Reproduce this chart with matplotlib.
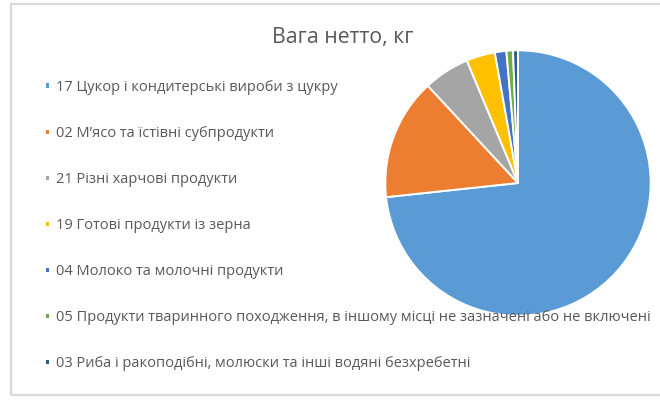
import matplotlib
matplotlib.use("Agg")
import matplotlib.pyplot as plt
from matplotlib.patches import Rectangle

# Net weight shares by commodity group (percent of total)
labels = [
    "17 Цукор і кондитерські вироби з цукру",
    "02 М’ясо та їстівні субпродукти",
    "21 Різні харчові продукти",
    "19 Готові продукти із зерна",
    "04 Молоко та молочні продукти",
    "05 Продукти тваринного походження, в іншому місці не зазначені або не включені",
    "03 Риба і ракоподібні, молюски та інші водяні безхребетні",
]
values = [73.3, 14.8, 5.6, 3.5, 1.4, 0.8, 0.6]
colors = ["#5B9BD5", "#ED7D31", "#A5A5A5", "#FFC000", "#4472C4", "#70AD47", "#255E91"]
title = "Вага нетто, кг"

W, H = 660, 401
fig = plt.figure(figsize=(W / 100, H / 100), dpi=100)
plt.rcParams["font.family"] = ["Open Sans", "DejaVu Sans"]

# chart frame (right side runs past the canvas)
fig.patches.append(Rectangle((11 / W, 1 - 395 / H), 2.0, (395 - 4) / H,
                             transform=fig.transFigure, fill=False,
                             edgecolor="#d9d9d9", linewidth=1.6))

# pie
cx, cy, r = 518, 183, 134
ax = fig.add_axes([(cx - r) / W, 1 - (cy + r) / H, 2 * r / W, 2 * r / H])
wedges, _ = ax.pie(values, colors=colors, startangle=90, counterclock=False,
                   wedgeprops=dict(edgecolor="white", linewidth=1.4))
ax.set_xlim(-1.01, 1.01)
ax.set_ylim(-1.01, 1.01)
ax.set_aspect("equal")
ax.axis("off")

fig.text(343 / W, 1 - 37 / H, title, ha="center", va="center",
         fontsize=15.3, color="#595959")

leg = fig.legend(wedges, labels, loc="upper left",
                 bbox_to_anchor=(45 / W, 1 - 80 / H),
                 frameon=False, fontsize=10.5, labelcolor="#595959",
                 handlelength=0.32, handleheight=0.32, handletextpad=0.45,
                 labelspacing=2.13, borderaxespad=0, borderpad=0)

fig.savefig("out.png", dpi=100, facecolor="white")
